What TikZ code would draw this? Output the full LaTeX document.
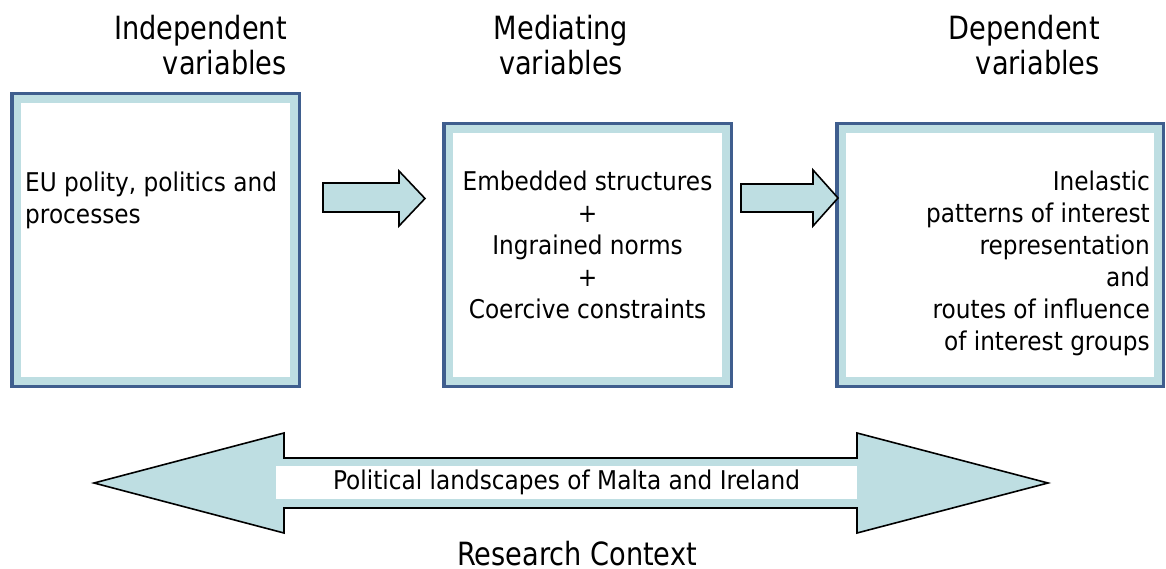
\documentclass[tikz,border=0pt]{standalone}
\usepackage{fontspec}
\setmainfont[FakeStretch=0.9]{DejaVu Sans}
\newfontfamily\headfont[FakeStretch=0.85]{DejaVu Sans}
\definecolor{frameblue}{HTML}{3F5E8E}
\definecolor{paleblue}{HTML}{BEDEE2}
\begin{document}
\begin{tikzpicture}[x=1pt,y=-1pt,
  varbox/.style={rectangle, draw=frameblue, line width=3.5pt, fill=paleblue,
    inner sep=0pt, outer sep=0pt,
    path picture={\fill[white]
      ([shift={(9pt,9pt)}]path picture bounding box.south west) rectangle
      ([shift={(-9pt,-9pt)}]path picture bounding box.north east);}},
  header/.style={font=\headfont\fontsize{32}{35}\selectfont, inner sep=0pt},
  boxtext/.style={font=\fontsize{25.8}{32}\selectfont, inner sep=0pt},
  blockarrow/.style={draw=black, line width=1.6pt, fill=paleblue, line join=miter}]
\useasboundingbox (0,0) rectangle (1166,569);

% column headings
\node[header, align=right, anchor=north east] (hind) at (287,15) {Independent\\variables};
\node[header, align=center, anchor=north] (hmed) at (561,15) {Mediating\\variables};
\node[header, align=right, anchor=north east] (hdep) at (1100,15) {Dependent\\variables};

% variable boxes
\node[varbox, minimum width=287.5pt, minimum height=292.5pt] (indep) at (155.5,240) {};
\node[varbox, minimum width=287.5pt, minimum height=262.5pt] (med) at (587.5,255) {};
\node[varbox, minimum width=326.5pt, minimum height=262.5pt] (dep) at (1000,255) {};

\node[boxtext, align=left, anchor=north west] (tind) at (25,172) {EU polity, politics and\\processes};
\node[boxtext, align=center, anchor=north] (tmed) at (587.5,170.5)
  {Embedded structures\\+\\Ingrained norms\\+\\Coercive constraints};
\node[boxtext, align=right, anchor=north east] (tdep) at (1150,170.5)
  {Inelastic\\patterns of interest\\representation\\and\\routes of influence\\of interest groups};

% block arrows between the boxes
\draw[blockarrow] (323,183) -- (399,183) -- (399,171) -- (425,198.5)
  -- (399,226) -- (399,212) -- (323,212) -- cycle;
\draw[blockarrow] (741,184) -- (813,184) -- (813,170) -- (838,198)
  -- (813,226) -- (813,212) -- (741,212) -- cycle;

% research context double arrow
\draw[blockarrow] (94,483) -- (284,433) -- (284,458) -- (857,458) -- (857,433)
  -- (1048,483) -- (857,533) -- (857,508) -- (284,508) -- (284,533) -- cycle;
\node[boxtext, fill=white, minimum width=581pt, minimum height=33pt] (land) at (566.5,482.5)
  {Political landscapes of Malta and Ireland};

\node[header, anchor=base] (ctx) at (577,565) {Research Context};
\end{tikzpicture}
\end{document}
